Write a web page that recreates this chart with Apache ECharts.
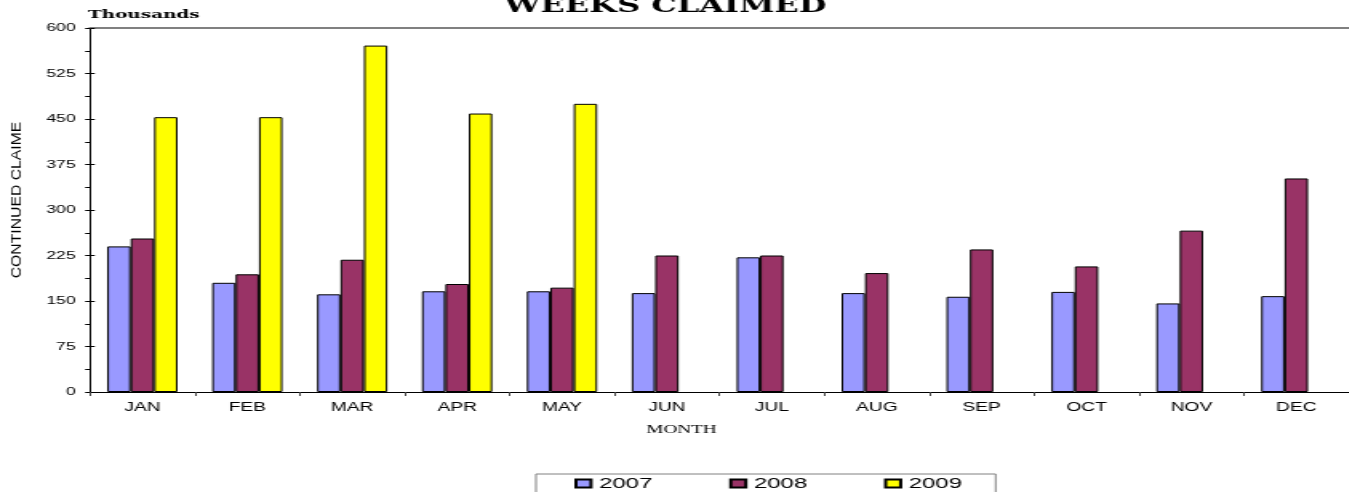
<!DOCTYPE html>
<html>
<head>
<meta charset="utf-8">
<script src="https://cdn.jsdelivr.net/npm/echarts@6/dist/echarts.min.js"></script>
<style>
html, body { margin: 0; padding: 0; overflow: hidden; background: #fff; }
#wrap { width: 1349px; height: 492px; overflow: hidden; }
#chart { width: 843.125px; height: 492px; transform: scaleX(1.6); transform-origin: 0 0; }
</style>
</head>
<body>
<div id="wrap"><div id="chart"></div></div>
<script>
const months = ['JAN','FEB','MAR','APR','MAY','JUN','JUL','AUG','SEP','OCT','NOV','DEC'];
const seriesNames = ['2007','2008','2009'];
const y2007 = [240, 180, 161, 166, 166, 163, 222, 163, 157, 165, 146, 158];
const y2008 = [253, 194, 218, 178, 172, 225, 225, 196, 235, 207, 266, 352];
const y2009 = [453, 453, 571, 459, 475, null, null, null, null, null, null, null];
const yTicks = { min: 0, max: 600, interval: 75 };
const colors = ['#9999FF', '#993366', '#FFFF00'];

const chart = echarts.init(document.getElementById('chart'), null, { renderer: 'canvas' });
const sans = 'Arial, "Liberation Sans", sans-serif';
const serif = '"Times New Roman", "Liberation Serif", serif';
const allData = [y2007, y2008, y2009];

chart.setOption({
  animation: false,
  backgroundColor: '#fff',
  grid: { left: 56.25, top: 28, width: 788.6, bottom: 100, containLabel: false },
  xAxis: [
    {
      type: 'category', data: months, position: 'bottom',
      axisLine: { onZero: false, lineStyle: { color: '#000', width: 1 } },
      axisTick: { show: true, length: 4, lineStyle: { color: '#444' } },
      axisLabel: { color: '#000', fontSize: 12, fontFamily: sans, margin: 10 },
      splitLine: { show: false }
    },
    {
      type: 'category', data: months, position: 'top',
      axisLine: { show: true, onZero: false, lineStyle: { color: '#808080', width: 2 } },
      axisTick: { show: false }, axisLabel: { show: false }, splitLine: { show: false }
    }
  ],
  yAxis: [
    {
      type: 'value', min: yTicks.min, max: yTicks.max, interval: yTicks.interval,
      axisLine: { show: true, lineStyle: { color: '#000', width: 1 } },
      axisTick: { show: true, length: 3, lineStyle: { color: '#000' } },
      minorTick: { show: true, splitNumber: 2, length: 3, lineStyle: { color: '#000' } },
      axisLabel: { color: '#000', fontSize: 11, fontFamily: sans, margin: 9 },
      splitLine: { show: false }
    },
    {
      type: 'value', min: yTicks.min, max: yTicks.max, interval: yTicks.interval, position: 'left', offset: 0,
      axisLine: { show: false },
      axisTick: { show: true, inside: true, length: 3, lineStyle: { color: '#000' } },
      axisLabel: { show: false }, splitLine: { show: false }
    }
  ],
  legend: {
    data: seriesNames, left: 335, top: 474,
    padding: [2, 21, 12, 24], itemGap: 48, itemWidth: 9.4, itemHeight: 8,
    icon: 'rect', borderColor: '#808080', borderWidth: 1,
    textStyle: { color: '#000', fontSize: 15, fontFamily: sans },
    itemTextGap: 5
  },
  series: seriesNames.map((n, i) => ({
    name: n, type: 'bar', xAxisIndex: 0, yAxisIndex: 0,
    data: allData[i],
    barGap: '0%', barCategoryGap: '33%',
    itemStyle: { color: colors[i], borderColor: '#000', borderWidth: 1 }
  })),
  graphic: [
    { type: 'text', x: 416, y: 17, style: { text: 'WEEKS CLAIMED', fill: '#000', font: 'bold 20px "DejaVu Serif", serif', textAlign: 'center', textVerticalAlign: 'bottom' } },
    { type: 'text', x: 55, y: 15.5, style: { text: 'Thousands', fill: '#000', font: 'bold 11.5px "DejaVu Serif", serif', textAlign: 'left', textVerticalAlign: 'middle' } },
    { type: 'text', x: 426, y: 430, style: { text: 'MONTH', fill: '#000', font: '12px ' + serif, textAlign: 'center', textVerticalAlign: 'middle' } },
    { type: 'text', x: 10.6, y: 200, rotation: Math.PI / 2, scaleX: 1.75, scaleY: 1, style: { text: 'CONTINUED CLAIME', fill: '#000', font: '9px ' + sans, textAlign: 'center', textVerticalAlign: 'middle' } }
  ]
});
</script>
</body>
</html>
